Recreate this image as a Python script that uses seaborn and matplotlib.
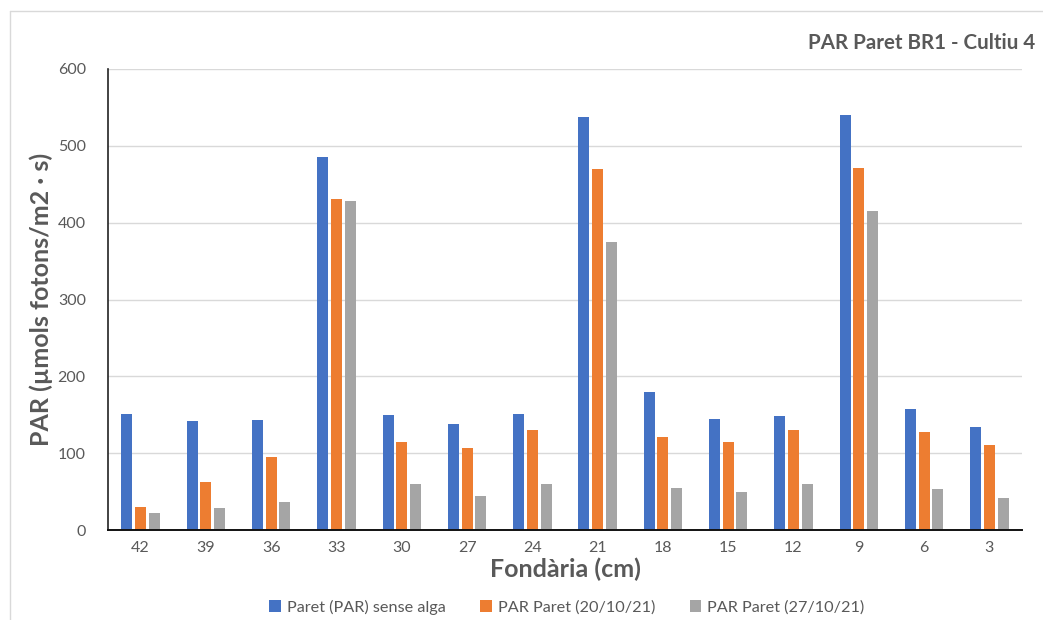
import matplotlib
matplotlib.use("Agg")
import matplotlib.pyplot as plt
import seaborn as sns
import pandas as pd
from matplotlib.lines import Line2D

depths = ["42", "39", "36", "33", "30", "27", "24", "21", "18", "15", "12", "9", "6", "3"]
sense_alga = [151, 142, 143, 486, 150, 138, 151, 538, 180, 144, 148, 540, 158, 134]
par_20_10 = [30, 62, 95, 431, 115, 107, 130, 470, 121, 115, 130, 471, 128, 110]
par_27_10 = [22, 29, 36, 428, 60, 44, 60, 375, 55, 50, 60, 415, 53, 42]
series_names = ["Paret (PAR) sense alga", "PAR Paret (20/10/21)", "PAR Paret (27/10/21)"]
colors = ["#4472C4", "#ED7D31", "#A5A5A5"]

rows = []
for name, vals in zip(series_names, [sense_alga, par_20_10, par_27_10]):
    for d, v in zip(depths, vals):
        rows.append({"Fondària": d, "PAR": v, "Sèrie": name})
df = pd.DataFrame(rows)

sns.set_theme(style="white")
plt.rcParams['font.family'] = ['Lato', 'DejaVu Sans']
text_color = "#595959"

fig = plt.figure(figsize=(10.43, 6.2), dpi=100)
ax = fig.add_axes([108/1043, 1-530/620, (1022-108)/1043, (530-69)/620])

sns.barplot(data=df, x="Fondària", y="PAR", hue="Sèrie", order=depths,
            hue_order=series_names, palette=colors, width=0.63, gap=0.2,
            saturation=1, ax=ax, legend=True, edgecolor="none")

ax.set_ylim(0, 600)
ax.set_xlim(-0.5, len(depths) - 0.5)
ax.set_yticks(range(0, 601, 100))
ax.yaxis.grid(True, color="#D9D9D9", linewidth=1)
ax.set_axisbelow(True)
for s in ["top", "right"]:
    ax.spines[s].set_visible(False)
ax.spines["left"].set_color("#222222")
ax.spines["left"].set_linewidth(1.2)
ax.spines["bottom"].set_color("#111111")
ax.spines["bottom"].set_linewidth(1.4)
ax.tick_params(axis="both", length=0, labelsize=11.5, colors=text_color, pad=8)
ax.tick_params(axis="y", pad=16)

ax.set_xlabel("Fondària (cm)", fontsize=18, fontweight="bold", color=text_color, labelpad=2)
ax.set_ylabel("PAR (µmols fotons/m2 · s)", fontsize=18, fontweight="bold", color=text_color, labelpad=3)

fig.text(1035/1043, 1-43/620, "PAR Paret BR1 - Cultiu 4", ha="right", va="center",
         fontsize=14.8, fontweight="bold", color=text_color)

leg = ax.legend(loc="center", bbox_to_anchor=(567/1043, 1-607/620),
                bbox_transform=fig.transFigure, ncol=3,
                frameon=False, fontsize=11.7, handlelength=0.7, handleheight=0.7,
                columnspacing=2.1, handletextpad=0.4)
for t in leg.get_texts():
    t.set_color(text_color)

# chart border
fig.add_artist(Line2D([10/1043, 10/1043], [0, 1-11/620], transform=fig.transFigure, color="#D9D9D9", linewidth=1))
fig.add_artist(Line2D([10/1043, 1], [1-11/620, 1-11/620], transform=fig.transFigure, color="#D9D9D9", linewidth=1))

fig.savefig("out.png", dpi=100, facecolor="white")
